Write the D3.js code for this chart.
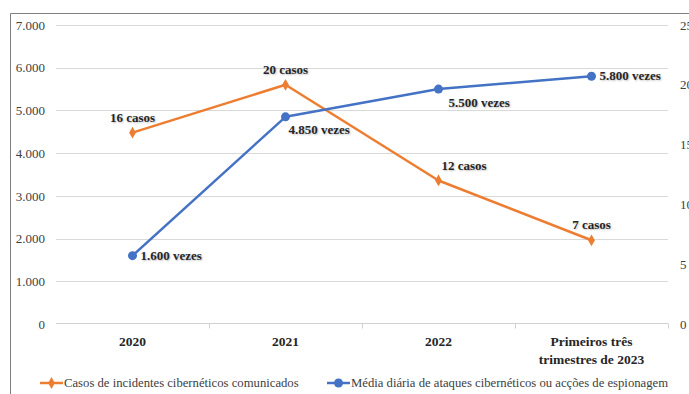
<!DOCTYPE html>
<html>
<head>
<meta charset="utf-8">
<script src="https://cdn.jsdelivr.net/npm/d3@7"></script>
<style>
  body { margin: 0; background: #fff; }
  text { font-family: "Liberation Serif", "Times New Roman", serif; }
  .lbl { text-shadow: 1px 1px 2px rgba(0,0,0,0.25); }
</style>
</head>
<body>
<script>
const categories = ['2020', '2021', '2022', 'Primeiros três|trimestres de 2023'];
const casos = [16, 20, 12, 7];
const vezes = [1600, 4850, 5500, 5800];
const casosLabels = ['16 casos', '20 casos', '12 casos', '7 casos'];
const vezesLabels = ['1.600 vezes', '4.850 vezes', '5.500 vezes', '5.800 vezes'];
const leftTicks = [0, 1000, 2000, 3000, 4000, 5000, 6000, 7000];
const rightTicks = [0, 5, 10, 15, 20, 25];
const seriesNames = ['Casos de incidentes cibernéticos comunicados',
  'Média diária de ataques cibernéticos ou acções de espionagem'];

// where each data label sits relative to its point
const casosPlace = ['above', 'above', 'aboveRight', 'above'];
const vezesPlace = ['right', 'belowRight', 'belowRight2', 'right'];

const width = 689, height = 394;
const orange = '#ED7D31', blue = '#4472C4';

const svg = d3.select('body').append('svg')
  .attr('width', width)
  .attr('height', height);

// chart frame (only left and top edges visible)
svg.append('path')
  .attr('d', 'M10.5,' + height + 'V13.5H' + width)
  .attr('fill', 'none')
  .attr('stroke', '#7f7f7f');

const x = d3.scaleBand()
  .domain(categories)
  .range([56, 668]);

const yL = d3.scaleLinear().domain([0, 7000]).range([324, 25]);
const yR = d3.scaleLinear().domain([0, 25]).range([324, 25]);

// gridlines
svg.append('g')
  .selectAll('line')
  .data(leftTicks.slice(1))
  .enter().append('line')
  .attr('x1', 56).attr('x2', 668)
  .attr('y1', d => Math.round(yL(d)) + 0.5)
  .attr('y2', d => Math.round(yL(d)) + 0.5)
  .attr('stroke', '#d9d9d9');

// left axis
const axL = svg.append('g')
  .attr('transform', 'translate(56,0)')
  .call(d3.axisLeft(yL).tickValues(leftTicks).tickSize(0).tickPadding(11)
    .tickFormat(d => d3.format(',')(d).replace(/,/g, '.')));
axL.select('.domain').remove();
axL.selectAll('text').attr('font-size', 13).attr('fill', '#404040')
  .attr('font-family', '"Liberation Serif", serif');

// right axis
const axR = svg.append('g')
  .attr('transform', 'translate(668,0)')
  .call(d3.axisRight(yR).tickValues(rightTicks).tickSize(0).tickPadding(12));
axR.select('.domain').remove();
axR.selectAll('text').attr('font-size', 13).attr('fill', '#404040')
  .attr('font-family', '"Liberation Serif", serif');

// bottom axis
const axB = svg.append('g')
  .attr('transform', 'translate(0,323.5)');
axB.append('line')
  .attr('x1', 56).attr('x2', 668)
  .attr('stroke', '#d0d0d0');
axB.selectAll('.tk')
  .data(categories.slice(1).concat(['end']))
  .enter().append('line')
  .attr('x1', (d, i) => Math.round(56 + x.step() * (i + 1)) + 0.5)
  .attr('x2', (d, i) => Math.round(56 + x.step() * (i + 1)) + 0.5)
  .attr('y1', 0).attr('y2', 5)
  .attr('stroke', '#d0d0d0');
categories.forEach(function (c) {
  const lines = c.split('|');
  const t = axB.append('text')
    .attr('x', x(c) + x.bandwidth() / 2)
    .attr('y', 22)
    .attr('text-anchor', 'middle')
    .attr('font-size', 13.5)
    .attr('font-weight', 'bold')
    .attr('fill', '#262626');
  lines.forEach(function (l, i) {
    t.append('tspan')
      .attr('x', x(c) + x.bandwidth() / 2)
      .attr('dy', i === 0 ? 0 : 18)
      .text(l);
  });
});

const cx = d => x(d) + x.bandwidth() / 2;

// orange series (right axis)
svg.append('path')
  .datum(casos)
  .attr('fill', 'none')
  .attr('stroke', orange)
  .attr('stroke-width', 2.5)
  .attr('stroke-linejoin', 'round')
  .attr('d', d3.line().x((d, i) => cx(categories[i])).y(d => yR(d)));

svg.append('g')
  .selectAll('path')
  .data(casos)
  .enter().append('path')
  .attr('transform', (d, i) => 'translate(' + cx(categories[i]) + ',' + yR(d) + ')')
  .attr('d', d3.symbol().type(d3.symbolDiamond).size(40))
  .attr('fill', orange);

// blue series (left axis)
svg.append('path')
  .datum(vezes)
  .attr('fill', 'none')
  .attr('stroke', blue)
  .attr('stroke-width', 2.5)
  .attr('stroke-linejoin', 'round')
  .attr('d', d3.line().x((d, i) => cx(categories[i])).y(d => yL(d)));

svg.append('g')
  .selectAll('circle')
  .data(vezes)
  .enter().append('circle')
  .attr('cx', (d, i) => cx(categories[i]))
  .attr('cy', d => yL(d))
  .attr('r', 4.5)
  .attr('fill', blue);

// data labels
const offsets = {
  above: [0, -11, 'middle'],
  aboveRight: [3, -10, 'start'],
  right: [8, 4, 'start'],
  belowRight: [3, 17, 'start'],
  belowRight2: [10, 18, 'start']
};

function addLabels(vals, labels, places, scale) {
  svg.append('g')
    .selectAll('text')
    .data(vals)
    .enter().append('text')
    .attr('class', 'lbl')
    .attr('x', (d, i) => cx(categories[i]) + offsets[places[i]][0])
    .attr('y', (d, i) => scale(d) + offsets[places[i]][1])
    .attr('text-anchor', (d, i) => offsets[places[i]][2])
    .attr('font-size', 13)
    .attr('font-weight', 'bold')
    .attr('fill', '#262626')
    .text((d, i) => labels[i]);
}
addLabels(casos, casosLabels, casosPlace, yR);
addLabels(vezes, vezesLabels, vezesPlace, yL);

// legend
const legend = svg.append('g').attr('transform', 'translate(0,383)');
const legItems = [
  { name: seriesNames[0], color: orange, x: 40, sym: d3.symbolDiamond, size: 40 },
  { name: seriesNames[1], color: blue, x: 327, sym: d3.symbolCircle, size: 64 }
];
legItems.forEach(function (it) {
  legend.append('line')
    .attr('x1', it.x).attr('x2', it.x + 23)
    .attr('stroke', it.color)
    .attr('stroke-width', 2.5);
  legend.append('path')
    .attr('transform', 'translate(' + (it.x + 11.5) + ',0)')
    .attr('d', d3.symbol().type(it.sym).size(it.size))
    .attr('fill', it.color);
  legend.append('text')
    .attr('x', it.x + 24)
    .attr('y', 4)
    .attr('font-size', 12.7)
    .attr('fill', '#404040')
    .text(it.name);
});
</script>
</body>
</html>
